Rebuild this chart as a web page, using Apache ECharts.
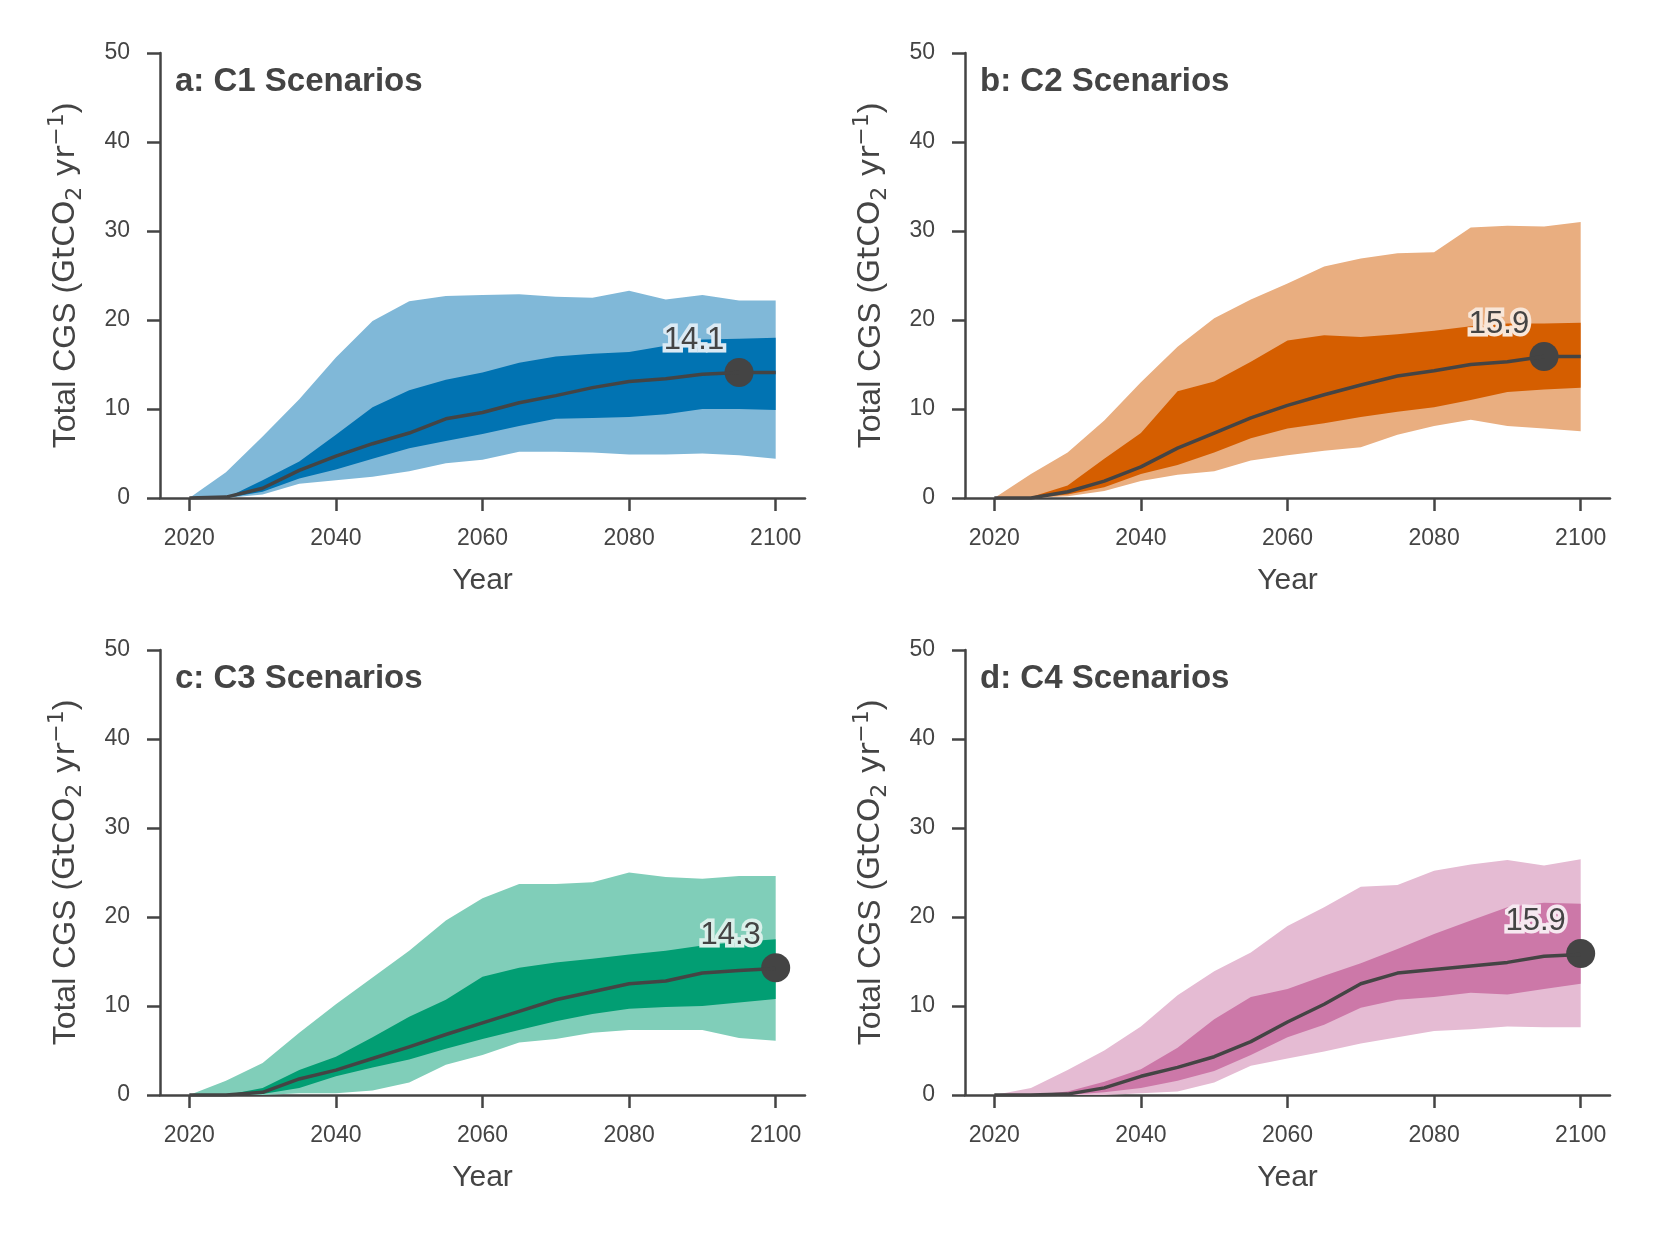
<!DOCTYPE html>
<html>
<head>
<meta charset="utf-8">
<script src="https://cdn.jsdelivr.net/npm/echarts@6/dist/echarts.min.js"></script>
<style>
html, body { margin: 0; padding: 0; background: #fff; }
#main { width: 1653px; height: 1240px; }
</style>
</head>
<body>
<div id="main"></div>
<script>
// years on the x axis
var years = [2020, 2025, 2030, 2035, 2040, 2045, 2050, 2055, 2060, 2065, 2070, 2075, 2080, 2085, 2090, 2095, 2100];
var xTicks = [2020, 2040, 2060, 2080, 2100];

// C1
var c1P5  = [0, 0, 0.4, 1.6, 2.0, 2.4, 3.0, 3.9, 4.3, 5.2, 5.2, 5.1, 4.9, 4.9, 5.0, 4.8, 4.4];
var c1P25 = [0, 0, 0.7, 2.2, 3.2, 4.4, 5.6, 6.4, 7.2, 8.1, 8.9, 9.0, 9.1, 9.4, 10.0, 10.0, 9.9];
var c1Med = [0, 0.1, 1.1, 3.1, 4.7, 6.1, 7.3, 8.9, 9.6, 10.7, 11.5, 12.4, 13.1, 13.4, 13.9, 14.1, 14.1];
var c1P75 = [0, 0, 2.0, 4.1, 7.1, 10.2, 12.1, 13.3, 14.1, 15.2, 15.9, 16.2, 16.4, 17.1, 17.8, 17.9, 18.0];
var c1P95 = [0, 2.9, 6.9, 11.1, 15.8, 19.9, 22.1, 22.7, 22.8, 22.9, 22.6, 22.5, 23.3, 22.3, 22.8, 22.2, 22.2];

// C2
var c2P5  = [0, 0, 0.2, 0.8, 1.9, 2.6, 3.0, 4.2, 4.8, 5.3, 5.7, 7.1, 8.1, 8.8, 8.1, 7.8, 7.5];
var c2P25 = [0, 0, 0.4, 1.2, 2.7, 3.7, 5.1, 6.7, 7.8, 8.4, 9.1, 9.7, 10.2, 11.0, 11.9, 12.2, 12.4];
var c2Med = [0, 0, 0.7, 1.9, 3.5, 5.6, 7.3, 9.0, 10.4, 11.6, 12.7, 13.7, 14.3, 15.0, 15.3, 15.9, 15.9];
var c2P75 = [0, 0.1, 1.4, 4.4, 7.3, 12.0, 13.1, 15.3, 17.7, 18.3, 18.1, 18.4, 18.8, 19.3, 19.6, 19.6, 19.7];
var c2P95 = [0, 2.7, 5.1, 8.7, 13.0, 17.0, 20.2, 22.3, 24.1, 26.0, 26.9, 27.5, 27.6, 30.4, 30.6, 30.5, 31.0];

// C3
var c3P5  = [0, 0, 0, 0.2, 0.2, 0.5, 1.4, 3.4, 4.5, 5.9, 6.3, 7.0, 7.3, 7.3, 7.3, 6.4, 6.1];
var c3P25 = [0, 0, 0.1, 0.8, 2.1, 3.1, 4.0, 5.2, 6.3, 7.3, 8.3, 9.1, 9.7, 9.9, 10.0, 10.4, 10.8];
var c3Med = [0, 0, 0.3, 1.8, 2.8, 4.1, 5.4, 6.8, 8.1, 9.4, 10.7, 11.6, 12.5, 12.8, 13.7, 14.0, 14.2];
var c3P75 = [0, 0, 0.8, 2.8, 4.3, 6.5, 8.8, 10.7, 13.3, 14.3, 14.9, 15.3, 15.8, 16.2, 16.8, 17.2, 17.5];
var c3P95 = [0, 1.6, 3.6, 7.0, 10.2, 13.2, 16.2, 19.6, 22.1, 23.7, 23.7, 23.9, 25.0, 24.5, 24.3, 24.6, 24.6];

// C4
var c4P5  = [0, 0, 0, 0, 0.2, 0.4, 1.4, 3.3, 4.1, 4.9, 5.8, 6.5, 7.2, 7.4, 7.7, 7.6, 7.6];
var c4P25 = [0, 0, 0, 0.3, 0.8, 1.6, 2.7, 4.5, 6.5, 7.9, 9.8, 10.7, 11.0, 11.5, 11.3, 11.9, 12.5];
var c4Med = [0, 0, 0.1, 0.8, 2.1, 3.1, 4.3, 6.0, 8.2, 10.2, 12.5, 13.7, 14.1, 14.5, 14.9, 15.6, 15.8];
var c4P75 = [0, 0, 0.4, 1.5, 2.9, 5.3, 8.5, 11.0, 11.9, 13.4, 14.8, 16.4, 18.1, 19.6, 21.1, 21.6, 21.5];
var c4P95 = [0, 0.8, 2.8, 5.0, 7.7, 11.2, 13.9, 16.0, 19.0, 21.1, 23.4, 23.6, 25.2, 25.9, 26.4, 25.8, 26.5];

// highlighted point per panel
var markYears  = [2095, 2095, 2100, 2100];
var markValues = [14.1, 15.9, 14.3, 15.9];

var titles = ['a: C1 Scenarios', 'b: C2 Scenarios', 'c: C3 Scenarios', 'd: C4 Scenarios'];

var panels = [
  { p5: c1P5, p25: c1P25, med: c1Med, p75: c1P75, p95: c1P95, dark: '#0173b2', light: '#80b8d8', halo: '#dbeaf4' },
  { p5: c2P5, p25: c2P25, med: c2Med, p75: c2P75, p95: c2P95, dark: '#d55e00', light: '#e9ae80', halo: '#f8e6d8' },
  { p5: c3P5, p25: c3P25, med: c3Med, p75: c3P75, p95: c3P95, dark: '#029e73', light: '#80ceb9', halo: '#daf0ea' },
  { p5: c4P5, p25: c4P25, med: c4Med, p75: c4P75, p95: c4P95, dark: '#cc78a8', light: '#e5bbd3', halo: '#f6e8f0' }
];

var font = 'Liberation Sans, Arial, Helvetica, sans-serif';
var mathFont = 'DejaVu Sans, sans-serif';
var ink = '#444444';
var boxes = [
  { left: 160, top: 53 },
  { left: 965, top: 53 },
  { left: 160, top: 650 },
  { left: 965, top: 650 }
];

function pairs(vals) {
  return years.map(function (y, i) { return [y, vals[i]]; });
}

// filled band between two percentile curves, placed with the axis scales
function band(i, lo, hi, color) {
  return {
    type: 'custom',
    xAxisIndex: i, yAxisIndex: i,
    silent: true,
    data: years.map(function (y, k) { return [y, lo[k], hi[k]]; }),
    encode: { x: 0, y: [1, 2] },
    renderItem: function (params, api) {
      if (params.dataIndex !== 0) return;
      var pts = [];
      for (var k = 0; k < years.length; k++) pts.push(api.coord([years[k], hi[k]]));
      for (var k2 = years.length - 1; k2 >= 0; k2--) pts.push(api.coord([years[k2], lo[k2]]));
      return {
        type: 'polygon',
        shape: { points: pts },
        style: { fill: color, stroke: null }
      };
    }
  };
}

var grid = [], xAxis = [], yAxis = [], series = [], title = [];

panels.forEach(function (p, i) {
  grid.push({ left: boxes[i].left, top: boxes[i].top, width: 645, height: 445 });

  title.push({
    text: titles[i],
    left: boxes[i].left + 10,
    top: boxes[i].top + 7,
    textStyle: { fontFamily: font, fontSize: 33, fontWeight: 'bold', color: ink }
  });

  xAxis.push({
    gridIndex: i,
    type: 'value',
    min: 2016,
    max: 2104,
    name: 'Year',
    nameLocation: 'middle',
    nameGap: 68,
    nameTextStyle: { fontFamily: font, fontSize: 30, color: ink },
    axisLine: { show: true, lineStyle: { color: ink, width: 2.5 } },
    axisTick: { show: true, length: 13, lineStyle: { color: ink, width: 2.5 }, customValues: xTicks },
    axisLabel: {
      fontFamily: font, fontSize: 23, color: ink, margin: 29, customValues: xTicks,
      formatter: function (v) { return String(v); }
    },
    splitLine: { show: false }
  });

  yAxis.push({
    gridIndex: i,
    type: 'value',
    min: 0,
    max: 50,
    interval: 10,
    name: '{t|Total CGS (}{m|GtCO}{sub|2}{m| yr}{sup|\u22121}{t|)}',
    nameLocation: 'middle',
    nameGap: 74,
    nameTextStyle: {
      fontFamily: font, fontSize: 32, color: ink, lineHeight: 40,
      rich: {
        t: { fontFamily: font, fontSize: 32, color: ink },
        m: { fontFamily: mathFont, fontSize: 31, color: ink },
        sub: { fontFamily: mathFont, fontSize: 22, lineHeight: 22, color: ink, verticalAlign: 'bottom' },
        sup: { fontFamily: mathFont, fontSize: 22, lineHeight: 20, color: ink, verticalAlign: 'top' }
      }
    },
    axisLine: { show: true, lineStyle: { color: ink, width: 2.5 } },
    axisTick: { show: true, length: 13, lineStyle: { color: ink, width: 2.5 } },
    axisLabel: { fontFamily: font, fontSize: 23, color: ink, margin: 30 },
    splitLine: { show: false }
  });

  series.push(band(i, p.p5, p.p95, p.light));
  series.push(band(i, p.p25, p.p75, p.dark));
  series.push({
    type: 'line', xAxisIndex: i, yAxisIndex: i,
    data: pairs(p.med), symbol: 'none',
    lineStyle: { color: ink, width: 3.5, join: 'round' }
  });
  series.push({
    type: 'scatter', xAxisIndex: i, yAxisIndex: i,
    data: [[markYears[i], markValues[i]]],
    symbol: 'circle', symbolSize: 29,
    itemStyle: { color: ink, opacity: 1 },
    label: {
      show: true, position: 'top', distance: 2, offset: [-45, 0],
      formatter: function (d) { return d.value[1].toFixed(1); },
      fontFamily: font, fontSize: 31, color: ink,
      textBorderColor: p.halo, textBorderWidth: 7
    }
  });
});

var chart = echarts.init(document.getElementById('main'));
chart.setOption({
  animation: false,
  backgroundColor: '#ffffff',
  title: title,
  grid: grid,
  xAxis: xAxis,
  yAxis: yAxis,
  series: series
});
</script>
</body>
</html>
